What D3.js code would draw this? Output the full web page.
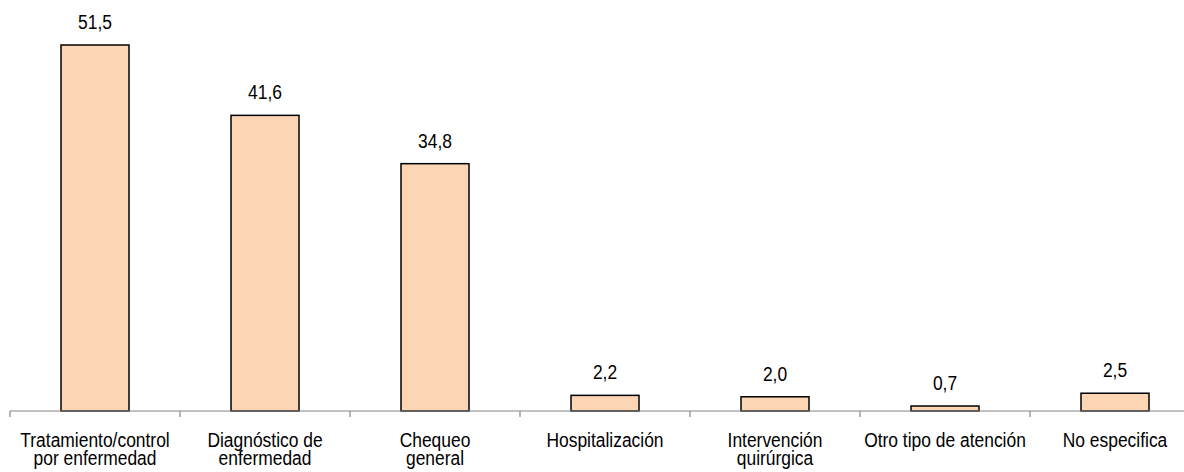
<!DOCTYPE html>
<html>
<head>
<meta charset="utf-8">
<script src="https://cdn.jsdelivr.net/npm/d3@7"></script>
<style>
  html, body { margin: 0; padding: 0; background: #fff; }
  svg { display: block; font-family: "Liberation Sans", Arial, sans-serif; }
</style>
</head>
<body>
<div id="chart-container"></div>
<script>
const categories = [
  ["Tratamiento/control", "por enfermedad"],
  ["Diagnóstico de", "enfermedad"],
  ["Chequeo", "general"],
  ["Hospitalización"],
  ["Intervención", "quirúrgica"],
  ["Otro tipo de atención"],
  ["No especifica"]
];
const values = [51.5, 41.6, 34.8, 2.2, 2.0, 0.7, 2.5];

const width = 1184;
const height = 472;
const margin = { top: 45, right: -16, bottom: 61, left: 10 };
const narrow = 0.83; // Arial Narrow look-alike

const svg = d3.select("#chart-container")
  .append("svg")
  .attr("width", width)
  .attr("height", height);

const x = d3.scaleBand()
  .domain(d3.range(categories.length))
  .range([margin.left, width - margin.right])
  .paddingInner(0.6)
  .paddingOuter(0.3);

const y = d3.scaleLinear()
  .domain([0, 51.5])
  .range([height - margin.bottom, margin.top]);

const step = x.step();
const baseY = y(0);
const cx = i => x(i) + x.bandwidth() / 2;

// bars
svg.append("g")
  .selectAll("rect")
  .data(values)
  .join("rect")
  .attr("x", (d, i) => x(i))
  .attr("y", d => y(d))
  .attr("width", x.bandwidth())
  .attr("height", d => baseY - y(d))
  .attr("fill", "#fcd5b5")
  .attr("stroke", "#000")
  .attr("stroke-width", 1.5);

// axis line + ticks between categories
const axis = svg.append("g").attr("stroke", "#868686").attr("stroke-width", 1.2);
axis.append("line")
  .attr("x1", margin.left).attr("x2", width - margin.right)
  .attr("y1", baseY).attr("y2", baseY);
axis.selectAll("line.tick")
  .data(d3.range(categories.length + 1))
  .join("line")
  .attr("class", "tick")
  .attr("x1", i => margin.left + i * step)
  .attr("x2", i => margin.left + i * step)
  .attr("y1", baseY).attr("y2", baseY + 6);

// value labels
svg.append("g")
  .selectAll("text")
  .data(values)
  .join("text")
  .attr("transform", (d, i) => `translate(${cx(i)},${y(d) - 16}) scale(${narrow},1)`)
  .attr("text-anchor", "middle")
  .style("font-size", "21px")
  .attr("fill", "#000")
  .text(d => d.toFixed(1).replace(".", ","));

// category labels
const labels = svg.append("g")
  .selectAll("text")
  .data(categories)
  .join("text")
  .attr("transform", (d, i) => `translate(${cx(i)},${baseY + 36}) scale(${narrow},1)`)
  .attr("text-anchor", "middle")
  .style("font-size", "21px")
  .attr("fill", "#000");

labels.selectAll("tspan")
  .data(d => d)
  .join("tspan")
  .attr("x", 0)
  .attr("dy", (d, j) => j === 0 ? 0 : 18)
  .text(d => d);
</script>
</body>
</html>
